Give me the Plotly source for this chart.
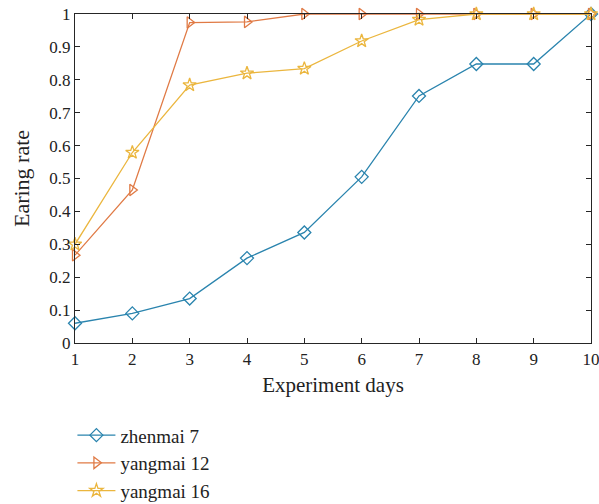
import plotly.graph_objects as go

days = [1, 2, 3, 4, 5, 6, 7, 8, 9, 10]
zhenmai7 = [0.06, 0.09, 0.135, 0.258, 0.336, 0.505, 0.751, 0.848, 0.848, 1.0]
yangmai12 = [0.267, 0.465, 0.974, 0.976, 1.0, 1.0, 1.0, 1.0, 1.0, 1.0]
yangmai16 = [0.30, 0.579, 0.784, 0.82, 0.834, 0.918, 0.983, 1.0, 1.0, 1.0]

names = ["zhenmai 7", "yangmai 12", "yangmai 16"]
colors = ["#2a84ae", "#e07a45", "#ebb63e"]
symbols = ["diamond-open", "triangle-right-open", "star-open"]

fig = go.Figure()
for name, vals, c, s in zip(names, [zhenmai7, yangmai12, yangmai16], colors, symbols):
    fig.add_trace(go.Scatter(
        x=days, y=vals, name=name, mode="lines+markers",
        line=dict(color=c, width=1.3),
        marker=dict(symbol=s, size=10, color=c, line=dict(color=c, width=1.3)),
        cliponaxis=False,
    ))

font = "Liberation Serif, Times New Roman, serif"
fig.update_layout(
    width=599, height=504,
    margin=dict(l=75, r=8, t=14, b=161),
    plot_bgcolor="white", paper_bgcolor="white",
    font=dict(family=font, size=17, color="#222"),
    showlegend=True,
    legend=dict(x=-0.005, y=0.174, xref="paper", yref="container",
                xanchor="left", yanchor="top",
                orientation="v", font=dict(size=19, family=font),
                tracegroupgap=0, itemwidth=38,
                bgcolor="rgba(0,0,0,0)"),
    xaxis=dict(range=[1, 10], tickvals=days, ticks="inside", ticklen=5,
               showline=True, mirror="ticks", linecolor="#262626", linewidth=1.3,
               tickcolor="#262626", showgrid=False, zeroline=False,
               automargin=False, ticklabeloverflow="allow",
               title=dict(text="Experiment days", standoff=9, font=dict(size=21)),
               tickfont=dict(size=17)),
    yaxis=dict(range=[0, 1], tickvals=[i / 10 for i in range(11)],
               ticktext=["0", "0.1", "0.2", "0.3", "0.4", "0.5", "0.6", "0.7", "0.8", "0.9", "1"],
               ticks="inside", ticklen=5,
               showline=True, mirror="ticks", linecolor="#262626", linewidth=1.3,
               tickcolor="#262626", showgrid=False, zeroline=False,
               automargin=False, ticklabeloverflow="allow",
               title=dict(text="Earing rate", standoff=13, font=dict(size=22)),
               tickfont=dict(size=17)),
)

fig.write_html("out.html")
